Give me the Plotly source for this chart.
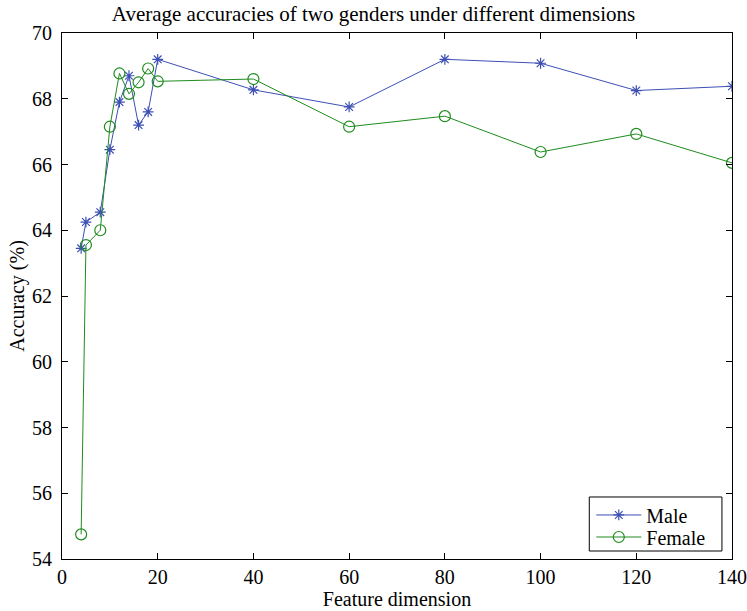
import plotly.graph_objects as go

dims = [4, 5, 8, 10, 12, 14, 16, 18, 20, 40, 60, 80, 100, 120, 140]
male = [63.45, 64.25, 64.55, 66.45, 67.9, 68.7, 67.2, 67.6, 69.2, 68.27, 67.75, 69.2, 69.08, 68.25, 68.38]
female = [54.75, 63.55, 64.0, 67.15, 68.77, 68.15, 68.5, 68.92, 68.53, 68.6, 67.15, 67.47, 66.38, 66.93, 66.05]
x_ticks = [0, 20, 40, 60, 80, 100, 120, 140]
y_ticks = [54, 56, 58, 60, 62, 64, 66, 68, 70]

font = "Liberation Serif, Times New Roman, serif"
fig = go.Figure()
fig.add_trace(go.Scatter(x=dims, y=male, name="Male", mode="lines+markers", legend="legend",
                         line=dict(color="#3d4fb4", width=1),
                         marker=dict(symbol="asterisk-open", size=9, color="#3d4fb4", line=dict(width=1.2, color="#3d4fb4"))))
fig.add_trace(go.Scatter(x=dims, y=female, name="Female", mode="lines+markers", legend="legend2",
                         line=dict(color="#1e8c1e", width=1),
                         marker=dict(symbol="circle-open", size=11, color="#1e8c1e", line=dict(width=1.2, color="#1e8c1e"))))

axis_common = dict(showgrid=False, zeroline=False, showline=True, linecolor="black", linewidth=1,
                   mirror="ticks", ticks="inside", ticklen=6, tickcolor="black", automargin=False,
                   ticklabeloverflow="allow",
                   tickfont=dict(family=font, size=20, color="black"))
leg_common = dict(xanchor="left", yanchor="middle", borderwidth=0, bgcolor="rgba(0,0,0,0)",
                  font=dict(family=font, size=20), itemwidth=45)
fig.update_layout(
    width=747, height=611,
    margin=dict(l=62, r=15, t=33, b=52),
    paper_bgcolor="white", plot_bgcolor="white",
    font=dict(family=font, color="black"),
    title=dict(text="Average accuracies of two genders under different dimensions",
               x=0.5, xanchor="center", y=0.977, yanchor="middle", font=dict(family=font, size=21)),
    xaxis=dict(range=[0, 140], tickvals=x_ticks, title=dict(text="Feature dimension", font=dict(size=20), standoff=0), **axis_common),
    yaxis=dict(range=[54, 70], tickvals=y_ticks, ticklabelstandoff=5,
               title=dict(text="Accuracy (%)", font=dict(size=20), standoff=2), **axis_common),
    legend=dict(x=0.790, y=0.0837, **leg_common),
    legend2=dict(x=0.790, y=0.0418, **leg_common),
    shapes=[dict(type="rect", xref="paper", yref="paper", x0=0.787, x1=0.985, y0=0.0152, y1=0.1179,
                 line=dict(color="black", width=1), fillcolor="white", layer="above")],
    showlegend=True,
)
fig.write_html("out.html")
